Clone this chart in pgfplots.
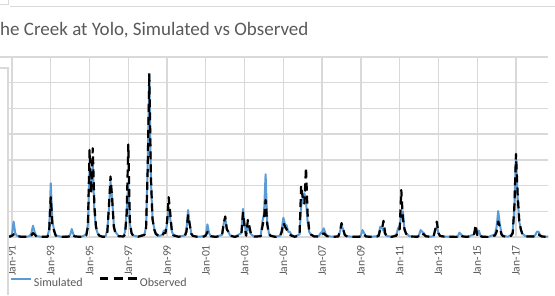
\documentclass[border=0pt]{standalone}
\usepackage{fontspec}
\setmainfont{Carlito}
\usepackage{pgfplots}
\pgfplotsset{compat=1.18}
\usepackage{pgfplotstable}
\definecolor{simblue}{HTML}{5B9BD5}
\definecolor{gridgray}{HTML}{D9D9D9}
\definecolor{textgray}{HTML}{595959}

\pgfplotstableread{
x y
1990.750 20
1990.917 30
1991.000 100
1991.083 600
1991.167 150
1991.250 50
1991.500 10
1991.833 20
1991.917 40
1992.000 150
1992.083 440
1992.167 200
1992.250 40
1992.500 10
1992.833 20
1992.917 300
1993.000 2090
1993.083 600
1993.167 300
1993.250 80
1993.333 40
1993.583 10
1993.917 30
1994.000 80
1994.083 310
1994.167 100
1994.250 30
1994.583 10
1994.833 100
1994.917 500
1995.000 2700
1995.083 1800
1995.167 2800
1995.250 1000
1995.333 350
1995.417 150
1995.500 60
1995.667 20
1995.833 30
1995.917 300
1996.000 1100
1996.083 2150
1996.167 1500
1996.250 500
1996.333 200
1996.500 40
1996.750 30
1996.833 200
1996.917 1000
1997.000 2100
1997.083 500
1997.167 150
1997.250 60
1997.500 15
1997.833 100
1997.917 400
1998.000 2800
1998.083 6300
1998.167 2200
1998.250 700
1998.333 350
1998.417 150
1998.583 40
1998.750 80
1998.833 250
1998.917 200
1999.000 500
1999.083 1150
1999.167 700
1999.250 200
1999.333 80
1999.583 15
1999.917 60
2000.000 300
2000.083 1050
2000.167 500
2000.250 150
2000.333 50
2000.583 10
2000.917 30
2001.000 100
2001.083 490
2001.167 150
2001.250 40
2001.500 10
2001.833 80
2001.917 500
2002.000 750
2002.083 300
2002.167 200
2002.250 60
2002.500 10
2002.833 150
2002.917 1090
2003.000 500
2003.083 150
2003.167 400
2003.250 250
2003.333 100
2003.500 20
2003.833 40
2003.917 600
2004.000 900
2004.083 2440
2004.167 600
2004.250 150
2004.333 60
2004.583 10
2004.833 50
2004.917 300
2005.000 750
2005.083 500
2005.167 450
2005.250 200
2005.333 200
2005.417 80
2005.583 20
2005.833 100
2005.917 1200
2006.000 1500
2006.083 1700
2006.167 1400
2006.250 600
2006.333 200
2006.417 100
2006.583 30
2006.833 40
2006.917 150
2007.000 200
2007.083 340
2007.167 150
2007.250 50
2007.500 10
2007.833 30
2007.917 200
2008.000 450
2008.083 300
2008.167 100
2008.250 40
2008.500 10
2008.917 20
2009.000 60
2009.083 270
2009.167 150
2009.250 40
2009.500 10
2009.833 30
2009.917 100
2010.000 400
2010.083 350
2010.167 250
2010.250 100
2010.333 40
2010.583 10
2010.833 80
2010.917 350
2011.000 400
2011.083 900
2011.167 1000
2011.250 250
2011.333 150
2011.500 30
2011.917 20
2012.000 80
2012.083 270
2012.167 200
2012.250 150
2012.333 50
2012.583 10
2012.750 30
2012.833 250
2012.917 400
2013.000 150
2013.083 50
2013.333 15
2013.917 10
2014.000 20
2014.083 170
2014.167 100
2014.250 30
2014.500 10
2014.833 100
2014.917 350
2015.000 100
2015.083 250
2015.167 60
2015.250 20
2015.583 5
2015.917 100
2016.000 400
2016.083 1010
2016.167 500
2016.250 150
2016.333 50
2016.583 10
2016.750 80
2016.833 200
2016.917 1200
2017.000 3200
2017.083 1600
2017.167 600
2017.250 300
2017.333 120
2017.500 30
2017.833 30
2017.917 40
2018.000 80
2018.083 210
2018.167 200
2018.250 80
2018.333 30
2018.583 10
2018.667 10
}\simulated

\pgfplotstableread{
x y
1990.750 10
1990.917 20
1991.000 50
1991.083 100
1991.167 120
1991.250 40
1991.500 5
1991.917 20
1992.000 60
1992.083 150
1992.167 100
1992.250 30
1992.500 5
1992.833 10
1992.917 200
1993.000 1550
1993.083 500
1993.167 250
1993.250 60
1993.333 30
1993.583 5
1993.917 15
1994.000 40
1994.083 100
1994.167 50
1994.250 20
1994.583 5
1994.833 60
1994.917 400
1995.000 3380
1995.083 1700
1995.167 3450
1995.250 1200
1995.333 400
1995.417 150
1995.500 50
1995.667 10
1995.833 10
1995.917 150
1996.000 1200
1996.083 2350
1996.167 1500
1996.250 400
1996.333 150
1996.500 30
1996.750 20
1996.833 100
1996.917 900
1997.000 3600
1997.083 600
1997.167 150
1997.250 50
1997.500 10
1997.833 80
1997.917 350
1998.000 2600
1998.083 6370
1998.167 2300
1998.250 700
1998.333 300
1998.417 120
1998.583 30
1998.750 50
1998.833 150
1998.917 150
1999.000 600
1999.083 1550
1999.167 900
1999.250 200
1999.333 60
1999.583 10
1999.917 40
2000.000 200
2000.083 850
2000.167 500
2000.250 120
2000.333 40
2000.583 5
2000.917 20
2001.000 60
2001.083 200
2001.167 80
2001.250 30
2001.500 5
2001.833 50
2001.917 500
2002.000 800
2002.083 300
2002.167 200
2002.250 50
2002.500 5
2002.833 80
2002.917 950
2003.000 400
2003.083 50
2003.167 660
2003.250 400
2003.333 100
2003.500 15
2003.833 30
2003.917 400
2004.000 700
2004.083 1440
2004.167 500
2004.250 120
2004.333 50
2004.583 5
2004.833 30
2004.917 200
2005.000 550
2005.083 400
2005.167 300
2005.250 150
2005.333 100
2005.417 50
2005.583 10
2005.833 50
2005.917 2000
2006.000 1500
2006.083 1300
2006.167 2700
2006.250 900
2006.333 250
2006.417 100
2006.583 20
2006.833 20
2006.917 80
2007.000 100
2007.083 150
2007.167 80
2007.250 30
2007.500 5
2007.833 20
2007.917 200
2008.000 540
2008.083 300
2008.167 80
2008.250 30
2008.500 5
2008.917 10
2009.000 30
2009.083 100
2009.167 100
2009.250 20
2009.500 5
2009.833 20
2009.917 50
2010.000 300
2010.083 300
2010.167 630
2010.250 150
2010.333 30
2010.583 5
2010.833 50
2010.917 300
2011.000 300
2011.083 1830
2011.167 700
2011.250 300
2011.333 120
2011.500 20
2011.917 10
2012.000 40
2012.083 150
2012.167 120
2012.250 100
2012.333 30
2012.583 5
2012.750 20
2012.833 300
2012.917 600
2013.000 150
2013.083 40
2013.333 10
2013.917 5
2014.000 10
2014.083 80
2014.167 60
2014.250 20
2014.500 5
2014.833 80
2014.917 470
2015.000 80
2015.083 150
2015.167 40
2015.250 10
2015.583 3
2015.917 60
2016.000 200
2016.083 600
2016.167 400
2016.250 100
2016.333 30
2016.583 5
2016.750 50
2016.833 150
2016.917 1200
2017.000 3230
2017.083 1700
2017.167 650
2017.250 300
2017.333 100
2017.500 20
2017.833 20
2017.917 20
2018.000 40
2018.083 120
2018.167 100
2018.250 50
2018.333 20
2018.583 5
2018.667 5
}\observed

\begin{document}
\begin{tikzpicture}
\useasboundingbox (0pt,0pt) rectangle (555pt,295pt);
% chart frame fragments
\draw[gridgray, line width=1pt] (10pt,288.3pt) -- (555pt,288.3pt);
\draw[gridgray, line width=1pt] (0pt,290pt) -- (8pt,290pt) -- (8pt,295pt);
\node[anchor=base west, inner sep=0pt, text=textgray, font=\fontsize{19}{23}\selectfont] at (0pt,259pt) {he Creek at Yolo, Simulated vs Observed};
\begin{axis}[
  at={(8pt,58pt)}, anchor=south west,
  scale only axis, width=540.3pt, height=180pt,
  xmin=1990.794, xmax=2018.667,
  ymin=0, ymax=7000,
  axis line style={draw=none},
  major tick length=0pt,
  xtick={1991,1993,1995,1997,1999,2001,2003,2005,2007,2009,2011,2013,2015,2017},
  xticklabels={Jan-91,Jan-93,Jan-95,Jan-97,Jan-99,Jan-01,Jan-03,Jan-05,Jan-07,Jan-09,Jan-11,Jan-13,Jan-15,Jan-17},
  ytick={0,1000,...,7000},
  yticklabels={},
  xmajorgrids, ymajorgrids,
  grid style={gridgray, line width=1.3pt},
  xticklabel style={rotate=90, anchor=east, inner sep=0pt, text=textgray, font=\fontsize{11.6}{14}\selectfont},
  xticklabel shift=8pt,
  legend columns=2,
  legend style={draw=none, fill=none, inner sep=0pt, outer sep=0pt,
    at={(0.0037,-0.2528)}, anchor=west,
    nodes={inner sep=0pt, text=textgray},
    /tikz/every odd column/.append style={column sep=2pt},
    /tikz/every even column/.append style={column sep=16pt}},
  legend cell align=left,
]
\addplot[simblue, line width=2pt, line join=round,
  legend image code/.code={\draw[simblue, line width=2pt] (0pt,4pt) -- (20pt,4pt);}]
  table[x=x, y=y] {\simulated};
\addlegendentry{\fontsize{12}{14}\selectfont Simulated}
\addplot[black, line width=2.2pt, dash pattern=on 8pt off 5pt, line join=round,
  legend image code/.code={\draw[black, line width=2.2pt, dash pattern=on 8.5pt off 5.75pt] (0pt,4pt) -- (37pt,4pt);}]
  table[x=x, y=y] {\observed};
\addlegendentry{\fontsize{12}{14}\selectfont Observed}
\end{axis}
\draw[gridgray, line width=1.3pt] (0pt,238pt) -- (8pt,238pt);
\draw[gridgray, line width=1.3pt] (0pt,227pt) -- (8pt,227pt) -- (8pt,0pt);
\end{tikzpicture}
\end{document}
